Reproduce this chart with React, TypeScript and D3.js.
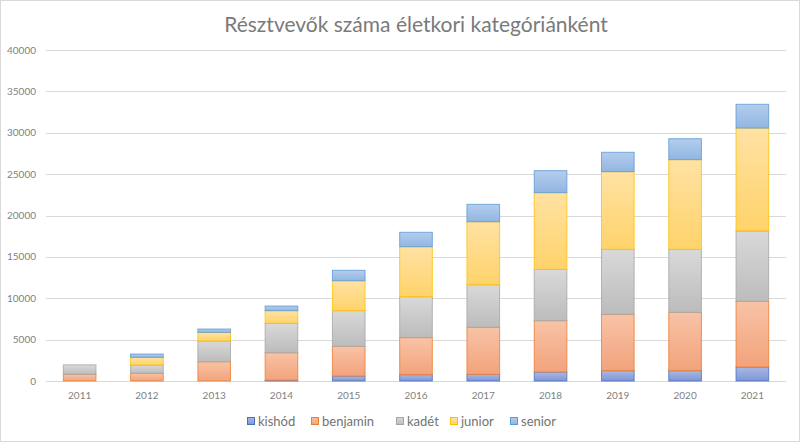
import { useEffect, useRef } from "react";
import * as d3 from "d3";

const years = ["2011", "2012", "2013", "2014", "2015", "2016", "2017", "2018", "2019", "2020", "2021"];
const kishod = [0, 0, 0, 100, 600, 770, 800, 1090, 1250, 1250, 1690];
const benjamin = [810, 930, 2330, 3320, 3590, 4470, 5690, 6200, 6810, 7050, 7940];
const kadet = [1140, 1000, 2500, 3550, 4310, 4950, 5150, 6200, 7850, 7610, 8500];
const junior = [0, 930, 1050, 1530, 3620, 6040, 7610, 9270, 9390, 10840, 12440];
const senior = [0, 400, 400, 560, 1255, 1740, 2100, 2660, 2340, 2530, 2870];
const yTicks = [0, 5000, 10000, 15000, 20000, 25000, 30000, 35000, 40000];

const seriesNames = ["kishód", "benjamin", "kadét", "junior", "senior"];
const seriesValues = [kishod, benjamin, kadet, junior, senior];
// [top colour, bottom colour, border]
const palette = [
  ["#a9b8e4", "#7f96d6", "#4a6fc0"],
  ["#f8c3a6", "#f2a37c", "#ed7d31"],
  ["#d9d9d9", "#bcbcbc", "#a5a5a5"],
  ["#ffe2a3", "#ffd36b", "#ffc000"],
  ["#b4cdec", "#91b6e3", "#5b9bd5"],
];

const W = 800;
const H = 442;
const font = "Lato, 'Open Sans', sans-serif";
const textColor = "#7f7f7f";

export default function App() {
  const ref = useRef<SVGSVGElement>(null);

  useEffect(() => {
    const svg = d3.select(ref.current);
    svg.selectAll("*").remove();

    const rows = years.map((y, i) => {
      const r: any = { year: y };
      seriesNames.forEach((n, k) => (r[n] = seriesValues[k][i]));
      return r;
    });
    const stacked = d3.stack().keys(seriesNames)(rows);

    const x = d3.scaleBand().domain(years).range([46, 786]).paddingInner(0.5).paddingOuter(0.25);
    const y = d3.scaleLinear().domain([0, 40000]).range([381, 50]);

    // gradients
    const defs = svg.append("defs");
    palette.forEach((c, i) => {
      const g = defs
        .append("linearGradient")
        .attr("id", "grad" + i)
        .attr("x1", 0)
        .attr("y1", 0)
        .attr("x2", 0)
        .attr("y2", 1);
      g.append("stop").attr("offset", "0%").attr("stop-color", c[0]);
      g.append("stop").attr("offset", "100%").attr("stop-color", c[1]);
    });

    // background + border
    svg
      .append("rect")
      .attr("x", 0.5)
      .attr("y", 0.5)
      .attr("width", W - 1)
      .attr("height", H - 1)
      .attr("fill", "#fff")
      .attr("stroke", "#d9d9d9");

    // title
    svg
      .append("text")
      .attr("x", 416)
      .attr("y", 32)
      .attr("text-anchor", "middle")
      .style("font-family", font)
      .style("font-size", "21px")
      .style("fill", "#7a7a7a")
      .text("Résztvevők száma életkori kategóriánként");

    // grid
    svg
      .append("g")
      .selectAll("line")
      .data(yTicks)
      .enter()
      .append("line")
      .attr("x1", 46)
      .attr("x2", 786)
      .attr("y1", (d) => Math.round(y(d)) + 0.5)
      .attr("y2", (d) => Math.round(y(d)) + 0.5)
      .attr("stroke", "#d9d9d9")
      .attr("stroke-width", 1);

    // y labels
    svg
      .append("g")
      .selectAll("text")
      .data(yTicks)
      .enter()
      .append("text")
      .attr("x", 36)
      .attr("y", (d) => y(d) + 3.5)
      .attr("text-anchor", "end")
      .style("font-family", font)
      .style("font-size", "10px")
      .style("fill", textColor)
      .text((d) => String(d));

    // x labels
    svg
      .append("g")
      .selectAll("text")
      .data(years)
      .enter()
      .append("text")
      .attr("x", (d) => (x(d) as number) + x.bandwidth() / 2)
      .attr("y", 399)
      .attr("text-anchor", "middle")
      .style("font-family", font)
      .style("font-size", "10px")
      .style("fill", textColor)
      .text((d) => d);

    // bars
    stacked.forEach((s, i) => {
      svg
        .append("g")
        .selectAll("rect")
        .data(s.filter((d) => d[1] - d[0] > 0))
        .enter()
        .append("rect")
        .attr("x", (d: any) => (x(d.data.year) as number) + 0.5)
        .attr("y", (d) => y(d[1]))
        .attr("width", x.bandwidth() - 1)
        .attr("height", (d) => y(d[0]) - y(d[1]))
        .attr("fill", `url(#grad${i})`)
        .attr("stroke", palette[i][2])
        .attr("stroke-width", 1)
        .attr("stroke-opacity", 0.8);
    });

    // legend
    const legendX = [247, 311, 396, 450, 510];
    const lg = svg.append("g");
    seriesNames.forEach((n, i) => {
      lg.append("rect")
        .attr("x", legendX[i] + 0.5)
        .attr("y", 417.5)
        .attr("width", 7)
        .attr("height", 7)
        .attr("fill", `url(#grad${i})`)
        .attr("stroke", palette[i][2]);
      lg.append("text")
        .attr("x", legendX[i] + 11)
        .attr("y", 425.5)
        .style("font-family", font)
        .style("font-size", "13px")
        .style("fill", "#737373")
        .text(n);
    });
  }, []);

  return (
    <div style={{ position: "fixed", left: 0, top: 0 }}>
      <svg ref={ref} width={W} height={H} style={{ display: "block" }} />
    </div>
  );
}
